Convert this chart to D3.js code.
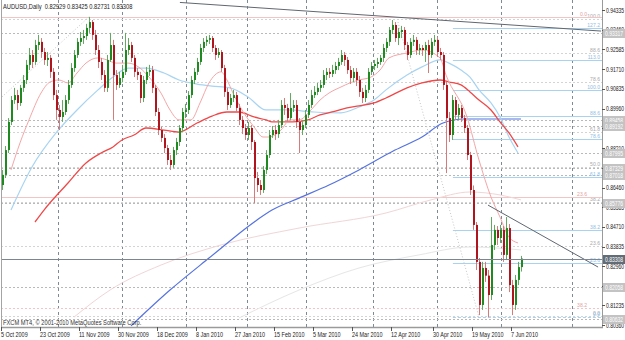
<!DOCTYPE html>
<html>
<head>
<meta charset="utf-8">
<script src="https://cdn.jsdelivr.net/npm/d3@7"></script>
<style>
  body { margin: 0; background: #fff; }
  svg { display: block; }
  text { font-family: "Liberation Sans", Arial, sans-serif; }
</style>
</head>
<body>
<div id="chart"></div>
<script>

//  Daily candles (open of each bar = previous close)
const firstOpen = 0.8657;
const closes = [
  .8702,.8812,.8937,.9034,.9056,.9021,.9088,.9123,.9190,.9234,
  .9203,.9278,.9292,.9247,.9212,.9221,.9159,.9056,.8990,.8959,
  .8981,.9034,.9101,.9176,.9234,.9292,.9309,.9318,.9354,.9380,
  .9323,.9256,.9203,.9145,.9088,.9212,.9278,.9145,.9101,.9132,
  .9159,.9256,.9278,.9221,.9159,.9145,.9043,.9123,.9159,.9167,
  .9088,.8981,.8901,.8866,.8821,.8768,.8746,.8812,.8848,.8910,
  .8981,.8990,.9056,.9123,.9159,.9203,.9265,.9292,.9301,.9309,
  .9265,.9234,.9247,.9176,.9070,.9012,.9043,.9056,.8999,.8946,
  .8910,.8879,.8910,.8848,.8688,.8657,.8635,.8724,.8790,.8879,
  .8901,.8883,.8923,.9012,.8999,.8954,.8999,.9012,.8937,.8901,
  .8923,.8968,.9012,.9056,.9070,.9088,.9101,.9145,.9159,.9150,
  .9167,.9185,.9203,.9234,.9212,.9167,.9132,.9159,.9123,.9070,
  .9043,.9079,.9159,.9185,.9194,.9203,.9221,.9265,.9292,.9345,
  .9367,.9309,.9336,.9345,.9278,.9234,.9292,.9301,.9256,.9265,
  .9256,.9278,.9234,.9292,.9301,.9247,.9234,.9101,.8954,.8879,
  .9034,.8968,.8999,.8954,.8910,.8790,.8635,.8480,.8316,.8125,
  .8289,.8255,.8169,.8391,.8458,.8422,.8458,.8347,.8466,.8213,
  .8125,.8236,.82929,.83308
];
const highs = [
  .8724,.8830,.8954,.9052,.9088,.9079,.9101,.9145,.9212,.9265,
  .9256,.9301,.9323,.9309,.9265,.9247,.9234,.9176,.9079,.9012,
  .9034,.9056,.9123,.9198,.9256,.9309,.9336,.9345,.9372,.9403,
  .9389,.9345,.9278,.9221,.9167,.9234,.9332,.9301,.9167,.9159,
  .9190,.9332,.9309,.9292,.9234,.9176,.9159,.9141,.9181,.9190,
  .9185,.9101,.8999,.8915,.8883,.8835,.8790,.8826,.8866,.8923,
  .8999,.9017,.9074,.9141,.9176,.9221,.9283,.9309,.9318,.9323,
  .9318,.9278,.9265,.9256,.9190,.9088,.9061,.9079,.9070,.9017,
  .8963,.8928,.8937,.8923,.8857,.8715,.8679,.8741,.8812,.8901,
  .8919,.8923,.8946,.9034,.9043,.9017,.9065,.9034,.9034,.8954,
  .8946,.8990,.9034,.9079,.9096,.9110,.9123,.9167,.9176,.9176,
  .9190,.9203,.9221,.9256,.9247,.9225,.9185,.9176,.9176,.9141,
  .9088,.9101,.9176,.9203,.9212,.9221,.9234,.9283,.9309,.9358,
  .9389,.9380,.9354,.9363,.9358,.9292,.9309,.9323,.9314,.9283,
  .9278,.9292,.9301,.9309,.9323,.9314,.9265,.9247,.9114,.8981,
  .9056,.9048,.9017,.9012,.8968,.8923,.8804,.8655,.8493,.8333,
  .8316,.8316,.8280,.8515,.8480,.8475,.8480,.8475,.8515,.8484,
  .8236,.8258,.8316,.83425
];
const lows = [
  .8635,.8688,.8799,.8923,.9017,.8990,.9008,.9070,.9105,.9167,
  .9176,.9190,.9256,.9221,.9190,.9185,.9132,.9034,.8946,.8901,
  .8937,.8968,.9017,.9088,.9159,.9221,.9274,.9283,.9301,.9332,
  .9301,.9234,.9176,.9123,.9070,.9070,.9203,.8946,.9079,.9088,
  .9114,.9145,.9234,.9203,.9136,.9123,.9021,.9025,.9105,.9141,
  .9065,.8963,.8879,.8848,.8799,.8746,.8724,.8733,.8790,.8830,
  .8892,.8954,.8972,.9043,.9105,.9145,.9190,.9247,.9274,.9283,
  .9247,.9212,.9221,.9159,.9048,.8990,.8999,.9025,.8981,.8923,
  .8883,.8857,.8857,.8812,.8577,.8626,.8613,.8622,.8706,.8777,
  .8866,.8857,.8866,.8910,.8968,.8937,.8946,.8981,.8910,.8799,
  .8879,.8910,.8954,.8999,.9043,.9056,.9070,.9088,.9123,.9132,
  .9136,.9150,.9167,.9190,.9185,.9150,.9105,.9114,.9096,.9048,
  .9021,.9025,.9065,.9145,.9167,.9176,.9190,.9203,.9247,.9274,
  .9327,.9292,.9278,.9309,.9256,.9212,.9221,.9274,.9234,.9234,
  .9230,.9203,.9154,.9221,.9274,.9225,.9212,.9079,.8710,.8848,
  .8857,.8946,.8946,.8937,.8888,.8768,.8613,.8458,.8280,.8080,
  .8103,.8227,.8071,.8147,.8369,.8391,.8400,.8316,.8324,.8182,
  .8080,.8103,.8213,.82731
];

//  Moving averages at a few bars
const fastBars = [3,6,9,13,16,19,22,25,28,32,35,38,42,46,49,53,56,59,63,66,69,73,75,77,80,84,87,89,93,96,99,103,106,109,113,116,119,123,126,129,135,140,146,148,155,159,163,166,169,172];
const fastMA   = [.8724,.8844,.8946,.9065,.9114,.9123,.9110,.9154,.9198,.9221,.9212,.9198,.9198,.9176,.9136,.9065,.8990,.8946,.8946,.9021,.9110,.9159,.9123,.9065,.8990,.8915,.8870,.8870,.8901,.8946,.8946,.8990,.9034,.9065,.9092,.9110,.9123,.9136,.9167,.9221,.9243,.9256,.9221,.9145,.8959,.8768,.8604,.8515,.8426,.8400];
const midBars  = [11,14,22,28,33,37,40,44,48,54,59,65,70,75,79,84,88,90,97,102,106,110,115,119,124,128,135,140,146,149,153,156,159,163,166,169,172];
const midMA    = [.8493,.8546,.8666,.8755,.8799,.8826,.8857,.8879,.8910,.8901,.8892,.8932,.8963,.8981,.8981,.8959,.8946,.8937,.8937,.8946,.8968,.8981,.8999,.9008,.9021,.9043,.9088,.9110,.9123,.9114,.9101,.9070,.9034,.8990,.8937,.8888,.8826];
const slowBars = [3,10,18,25,32,37,42,48,54,59,65,70,76,82,88,95,104,113,119,124,128,135,140,146,149,153,156,159,163,166,169,172];
const slowMA   = [.8546,.8737,.8888,.8990,.9079,.9136,.9176,.9176,.9154,.9123,.9105,.9096,.9088,.9048,.8990,.8990,.8981,.8977,.9003,.9034,.9079,.9145,.9181,.9212,.9198,.9167,.9136,.9079,.9021,.8959,.8870,.8799];
const longBars = [43,56,69,85,90,99,109,119,131,140,147,154,173];
const longMA   = [.8032,.8191,.8333,.8502,.8546,.8599,.8657,.8724,.8812,.8870,.8932,.8950,.8950];
const faintABars = [24,36,53,73,99,128,143,156,166,173];
const faintA     = [.8071,.8191,.8302,.8391,.8466,.8533,.8591,.8626,.8613,.8591];
const faintBBars = [79,99,119,139,156,173];
const faintB     = [.8067,.8191,.8289,.8347,.8382,.8369];

//  Drawn objects: [bar, price] end points
const trendTop   = [[59.3, .9467], [199.7, .9340]];
const trendLow   = [[162, .8568], [198.7, .8293]];
const fanDotted1 = [[0, .9048], [29, .9403]];
const fanDotted2 = [[132, .9380], [159, .8071]];

//  Horizontal lines with price boxes on the scale
const levelPrices = [0.93317, 0.89458, 0.89192, 0.87995, 0.87329, 0.87018, 0.85776, 0.82058, 0.80632];
const lastPrice = 0.83308;

//  Fibonacci sets: 0% price, 100% price, levels shown
const fibBlue = { p0: .8071, p100: .9079, startBar: 150.3, labelX: 600,
  levels: [0, 23.6, 38.2, 61.8, 78.6, 88.6, 100, 113, 127.2],
  labels: ["0.0","23.6","38.2","61.8","78.6","88.6","100.0","113.0","127.2"] };
const fibGray = { p0: .8076, p100: .9394, labelX: 600,
  levels: [0, 23.6, 38.2, 50, 61.8, 78.6, 88.6, 100],
  labels: ["0.0","23.6","38.2","50.0","61.8","78.6","88.6","100.0"] };
const fibPink = { p0: .9403, p100: .6019, labelX: 587,
  levels: [0, 23.6, 38.2],
  labels: ["0.0","23.6","38.2"] };

//  Axes
const priceTicks = [0.94335,0.93460,0.92585,0.91710,0.90835,0.89960,0.89085,0.88210,0.87335,0.86460,0.85585,0.84710,0.83835,0.82960,0.82085,0.81235,0.80360];
const dateBars   = [0,13,26,39,52,65,78,91,104,117,130,144,157,170];
const dateLabels = ["5 Oct 2009","23 Oct 2009","11 Nov 2009","30 Nov 2009","18 Dec 2009","8 Jan 2010","27 Jan 2010","15 Feb 2010","5 Mar 2010","24 Mar 2010","12 Apr 2010","30 Apr 2010","19 May 2010","7 Jun 2010"];
const gridBars   = [18.7, 40, 61.3, 81.7, 101.3, 123.7, 145, 166.3, 190];

const W = 625, H = 340;
const plotR = 602, plotB = 327;

const x = d3.scaleLinear().domain([0, 199.67]).range([2, 601]);
const y = d3.scaleLinear().domain([0.80360, 0.94335]).range([325, 10]);

const svg = d3.select("#chart").append("svg")
    .attr("width", W).attr("height", H);

svg.append("defs").append("clipPath").attr("id", "plot")
  .append("rect").attr("x", 1).attr("y", 0).attr("width", plotR - 1).attr("height", plotB);

// squeeze text horizontally like the shrunken MT4 screenshot
function squeeze(sel, k) {
  sel.each(function () {
    const t = d3.select(this);
    const tx = +t.attr("x") || 0, ty = +t.attr("y") || 0;
    t.attr("x", 0).attr("y", 0)
      .attr("transform", `translate(${tx},${ty}) scale(${k},1)`);
  });
}

const plot = svg.append("g").attr("clip-path", "url(#plot)");

// vertical dashed grid
plot.append("g").selectAll("line")
  .data(gridBars)
  .join("line")
    .attr("x1", d => Math.round(x(d)) + 0.5).attr("x2", d => Math.round(x(d)) + 0.5)
    .attr("y1", 0).attr("y2", plotB)
    .attr("stroke", "#7d8b99")
    .attr("stroke-dasharray", "3,3");

// fibonacci helper
function fibLines(fib, color, dash, x0, labelColor) {
  const g = plot.append("g");
  fib.levels.forEach((lv, i) => {
    const py = Math.round(y(fib.p0 + (fib.p100 - fib.p0) * lv / 100)) + 0.5;
    g.append("line")
      .attr("x1", x0).attr("x2", plotR)
      .attr("y1", py).attr("y2", py)
      .attr("stroke", color)
      .attr("stroke-dasharray", typeof dash === "function" ? dash(lv) : dash);
    g.append("text")
      .attr("x", fib.labelX).attr("y", py - 1.5)
      .attr("text-anchor", "end")
      .attr("font-size", "6px")
      .attr("fill", labelColor)
      .text(fib.labels[i])
      .call(squeeze, 0.85);
  });
}

fibLines(fibGray, "#d4d4d4", "2,2", 1, "#a9a9a9");
fibLines(fibPink, "#f2c4c4", lv => lv === 38.2 ? "2,2" : null, 1, "#e2a2a2");

// horizontal level lines
plot.append("g").selectAll("line")
  .data(levelPrices)
  .join("line")
    .attr("x1", 1).attr("x2", plotR)
    .attr("y1", d => Math.round(y(d)) + 0.5).attr("y2", d => Math.round(y(d)) + 0.5)
    .attr("stroke", "#b9b9b9")
    .attr("stroke-dasharray", "2,2");

fibLines(fibBlue, "#a9d2f0", lv => lv === 0 ? "3,2" : null, x(fibBlue.startBar), "#8fbde3");

// moving averages
const line = d3.line().x(d => x(d[0])).y(d => y(d[1])).curve(d3.curveMonotoneX);
const maSeries = [
  { bars: faintBBars, vals: faintB,  color: "#e6e6e6", w: 1 },
  { bars: faintABars, vals: faintA,  color: "#f0d6d6", w: 1 },
  { bars: longBars,   vals: longMA,  color: "#5573e0", w: 1.2 },
  { bars: slowBars,   vals: slowMA,  color: "#a8d4f2", w: 1.2 },
  { bars: midBars,    vals: midMA,   color: "#f04848", w: 1.3 },
  { bars: fastBars,   vals: fastMA,  color: "#f4a6a6", w: 1 }
];
plot.append("g").attr("fill", "none")
  .selectAll("path")
  .data(maSeries)
  .join("path")
    .attr("d", s => line(s.bars.map((b, i) => [b, s.vals[i]])))
    .attr("stroke", s => s.color)
    .attr("stroke-width", s => s.w);

// trend lines and fan lines
const straight = d3.line().x(d => x(d[0])).y(d => y(d[1]));
plot.append("path").attr("d", straight(trendTop)).attr("stroke", "#5f6770").attr("fill", "none");
plot.append("path").attr("d", straight(trendLow)).attr("stroke", "#5f6770").attr("fill", "none");
[fanDotted1, fanDotted2].forEach(seg => {
  plot.append("path").attr("d", straight(seg))
    .attr("stroke", "#c8c8c8").attr("stroke-dasharray", "1,2").attr("fill", "none");
});

// candles
const candles = closes.map((c, i) => {
  const o = i ? closes[i - 1] : firstOpen;
  return { i, o, c, h: Math.max(highs[i], o, c), l: Math.min(lows[i], o, c) };
});
const cg = plot.append("g");
cg.selectAll("line")
  .data(candles)
  .join("line")
    .attr("x1", d => Math.round(x(d.i)) + 0.5).attr("x2", d => Math.round(x(d.i)) + 0.5)
    .attr("y1", d => y(d.h)).attr("y2", d => y(d.l))
    .attr("stroke", d => d.c >= d.o ? "#62aa62" : "#d47c7c");
cg.selectAll("rect")
  .data(candles)
  .join("rect")
    .attr("x", d => Math.round(x(d.i)))
    .attr("width", 2)
    .attr("y", d => y(Math.max(d.o, d.c)))
    .attr("height", d => Math.max(1, Math.abs(y(d.o) - y(d.c))))
    .attr("fill", d => d.c >= d.o ? "#1f8a1f" : "#b0141c");

// bid line
plot.append("line")
  .attr("x1", 1).attr("x2", plotR)
  .attr("y1", Math.round(y(lastPrice)) + 0.5).attr("y2", Math.round(y(lastPrice)) + 0.5)
  .attr("stroke", "#7c8690");

// frame
svg.append("line").attr("x1", 1.5).attr("x2", 1.5).attr("y1", 0).attr("y2", plotB).attr("stroke", "#a4a4a4");
svg.append("line").attr("x1", plotR + 0.5).attr("x2", plotR + 0.5).attr("y1", 0).attr("y2", plotB + 1).attr("stroke", "#9a9a9a");
svg.append("line").attr("x1", 1).attr("x2", plotR + 1).attr("y1", plotB + 0.5).attr("y2", plotB + 0.5)
  .attr("stroke", "#9a9a9a").attr("stroke-width", 1.5);

// price scale
const ax = svg.append("g");
ax.selectAll("line")
  .data(priceTicks)
  .join("line")
    .attr("x1", plotR).attr("x2", plotR + 3)
    .attr("y1", d => Math.round(y(d)) + 0.5).attr("y2", d => Math.round(y(d)) + 0.5)
    .attr("stroke", "#555");
ax.selectAll("text")
  .data(priceTicks)
  .join("text")
    .attr("x", plotR + 4).attr("y", d => y(d) + 2.5)
    .attr("font-size", "7px").attr("fill", "#222")
    .text(d => d.toFixed(5))
    .call(squeeze, 0.72);

// price boxes for the level lines and the bid
const boxes = levelPrices.map(p => ({ p, fill: "#c3c3c3" }))
  .concat([{ p: lastPrice, fill: "#626c76" }]);
const bx = svg.append("g").selectAll("g")
  .data(boxes)
  .join("g")
    .attr("transform", d => `translate(${plotR + 1},${Math.round(y(d.p)) - 4})`);
bx.append("rect").attr("width", W - plotR - 1).attr("height", 9).attr("fill", d => d.fill);
bx.append("text")
  .attr("x", 2).attr("y", 7)
  .attr("font-size", "7px").attr("fill", "#fff")
  .text(d => d.p.toFixed(5))
  .call(squeeze, 0.72);

// date scale
svg.append("g").selectAll("line")
  .data(dateBars)
  .join("line")
    .attr("x1", d => Math.round(x(d)) - 0.5).attr("x2", d => Math.round(x(d)) - 0.5)
    .attr("y1", plotB).attr("y2", plotB + 4)
    .attr("stroke", "#555");
svg.append("g").selectAll("text")
  .data(dateBars)
  .join("text")
    .attr("x", d => x(d) - 1).attr("y", 337)
    .attr("font-size", "7px").attr("fill", "#222")
    .text((d, i) => dateLabels[i])
    .call(squeeze, 0.78);

// header and copyright
svg.append("text")
  .attr("x", 3).attr("y", 9)
  .attr("font-size", "7px").attr("fill", "#222")
  .attr("xml:space", "preserve")
  .text("AUDUSD,Daily  0.82929 0.83425 0.82731 0.83308")
  .call(squeeze, 0.82);

svg.append("text")
  .attr("x", 3).attr("y", 325)
  .attr("font-size", "7px").attr("fill", "#333")
  .text("FXCM MT4, \u00a9 2001-2010 MetaQuotes Software Corp.")
  .call(squeeze, 0.82);

</script>
</body>
</html>
